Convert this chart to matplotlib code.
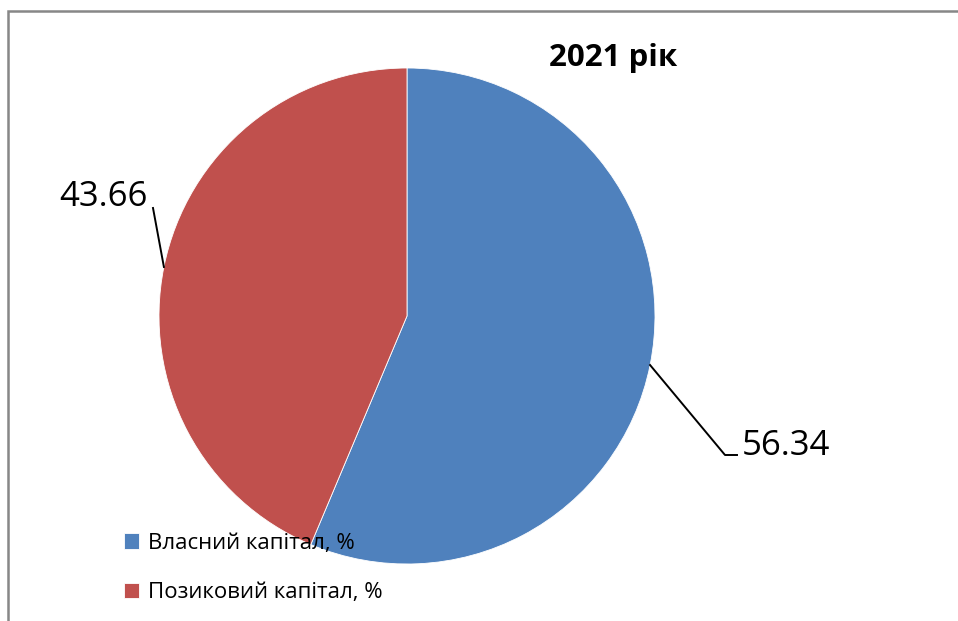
import numpy as np
import matplotlib.pyplot as plt
from matplotlib.patches import Rectangle

plt.rcParams['font.family'] = ['Open Sans', 'DejaVu Sans']

# capital structure for 2021, %
labels = ['Власний капітал, %', 'Позиковий капітал, %']
values = [56.34, 43.66]
colors = ['#4F81BD', '#C0504D']
title = '2021 рік'

W, H = 958, 621
fig = plt.figure(figsize=(W / 100, H / 100), dpi=100)
ax = fig.add_axes([0, 0, 1, 1])

cx, cy, r = 407, H - 316, 248
wedges, _ = ax.pie(values, colors=colors, startangle=90, counterclock=False,
                   center=(cx, cy), radius=r,
                   wedgeprops=dict(edgecolor='white', linewidth=0.6))

ax.set_xlim(0, W)
ax.set_ylim(0, H)
ax.set_aspect('equal')
ax.axis('off')

# chart area border (top and left edges visible)
ax.add_patch(Rectangle((8, -20), W + 40, H - 11 + 20, fill=False,
                       edgecolor='#878787', linewidth=1.8, clip_on=False))

# data labels with leader lines from the middle of each wedge
for w, v in zip(wedges, values):
    ang = np.deg2rad((w.theta1 + w.theta2) / 2)
    x0, y0 = cx + r * np.cos(ang), cy + r * np.sin(ang)
    if np.cos(ang) > 0:
        xs, ys = [x0, 725, 737], [y0, H - 455, H - 455]
        ax.plot(xs, ys, color='black', lw=1.4)
        ax.text(742, H - 446, f'{v:.2f}', fontsize=25, ha='left', va='center')
    else:
        xs, ys = [x0, 153], [y0, H - 208]
        ax.plot(xs, ys, color='black', lw=1.4)
        ax.text(148, H - 197, f'{v:.2f}', fontsize=25, ha='right', va='center')

ax.text(613, H - 58, title, fontsize=22.5, fontweight='bold', ha='center', va='center')

leg = ax.legend(wedges, labels, loc='upper left', bbox_to_anchor=(115 / W, 1 - 524 / H),
                frameon=False, fontsize=16, handlelength=0.7, handleheight=0.7,
                handletextpad=0.4, labelspacing=1.27, borderaxespad=0)

fig.savefig('out.png', dpi=100)
